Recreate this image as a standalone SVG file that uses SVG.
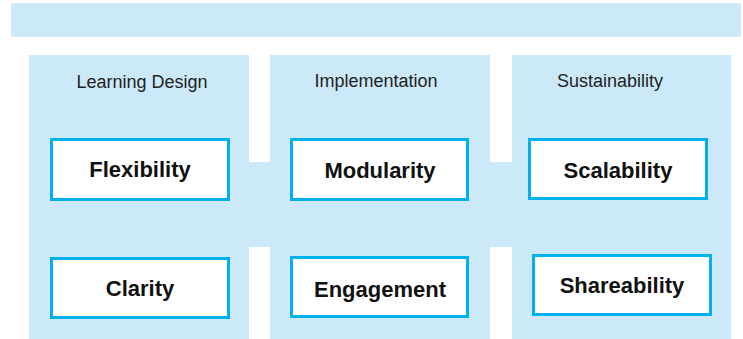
<svg xmlns="http://www.w3.org/2000/svg" width="743" height="339" viewBox="0 0 743 339">
<style>
.bg{fill:#cbe9f9}
.box{fill:#fff;stroke:#00b0f0;stroke-width:3}
.title{font-family:"Liberation Sans",Arial,sans-serif;font-size:18px;fill:#222;text-anchor:middle}
.lbl{font-family:"Liberation Sans",Arial,sans-serif;font-size:22px;font-weight:bold;fill:#111;text-anchor:middle}
</style>
<rect width="743" height="339" fill="#fff"/>
<rect id="top-bar" class="bg" x="11" y="3" width="730" height="34"/>
<g id="connectors">
<rect class="bg" x="248" y="162" width="24" height="85"/>
<rect class="bg" x="489" y="162" width="24" height="85"/>
</g>
<g id="panel-learning-design">
<rect class="bg" x="29" y="55" width="220" height="284"/>
<text class="title" x="142" y="88">Learning Design</text>
</g>
<g id="panel-implementation">
<rect class="bg" x="270" y="55" width="220" height="284"/>
<text class="title" x="376" y="87">Implementation</text>
</g>
<g id="panel-sustainability">
<rect class="bg" x="512" y="55" width="219" height="284"/>
<text class="title" x="610" y="87">Sustainability</text>
</g>
<g id="node-flexibility">
<rect class="box" x="51.5" y="139.5" width="177" height="60"/>
<text class="lbl" x="140" y="177">Flexibility</text>
</g>
<g id="node-clarity">
<rect class="box" x="51.5" y="258.5" width="177" height="59"/>
<text class="lbl" x="140" y="296">Clarity</text>
</g>
<g id="node-modularity">
<rect class="box" x="291.5" y="139.5" width="176" height="60"/>
<text class="lbl" x="380" y="178">Modularity</text>
</g>
<g id="node-engagement">
<rect class="box" x="291.5" y="257.5" width="176" height="59"/>
<text class="lbl" x="380" y="297">Engagement</text>
</g>
<g id="node-scalability">
<rect class="box" x="529.5" y="139.5" width="177" height="59"/>
<text class="lbl" x="618" y="178">Scalability</text>
</g>
<g id="node-shareability">
<rect class="box" x="533.5" y="255.5" width="177" height="59"/>
<text class="lbl" x="622" y="293">Shareability</text>
</g>
</svg>
